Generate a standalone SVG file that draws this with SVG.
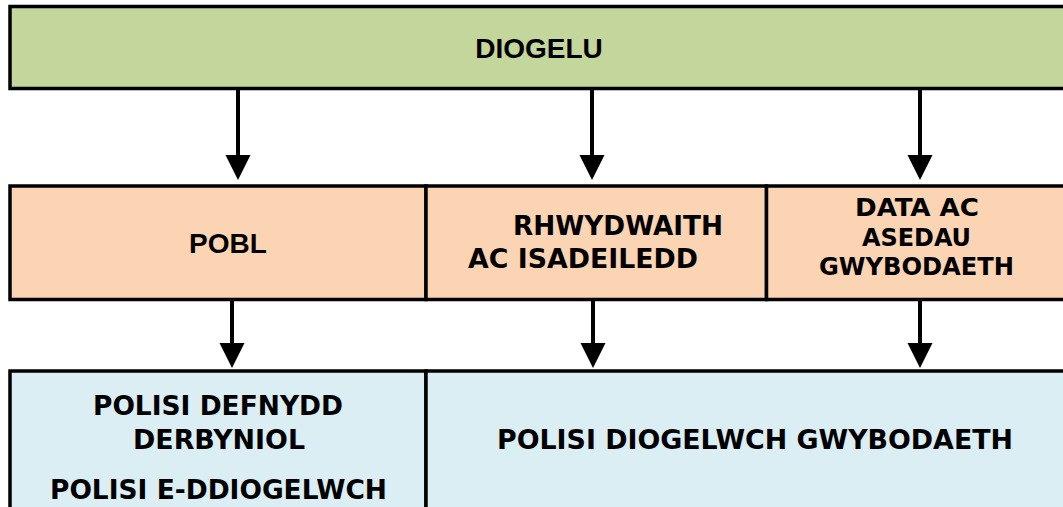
<svg xmlns="http://www.w3.org/2000/svg" width="1063" height="507" viewBox="0 0 1063 507">
<style>
.box{stroke:#000;stroke-width:3.5}
.g{fill:#C3D69B}
.p{fill:#FBD4B4}
.b{fill:#DAEEF3}
.ta{font-family:"Liberation Sans",Arial,sans-serif;font-weight:bold;font-size:28px;fill:#000}
.th{font-family:"DejaVu Sans Condensed","DejaVu Sans",sans-serif;font-stretch:condensed;font-weight:bold;font-size:26px;fill:#000}
.sm{font-size:25px}
.arr{stroke:#000;stroke-width:4;fill:none;marker-end:url(#ah)}
</style>
<defs>
<marker id="ah" viewBox="0 0 10 10" refX="0" refY="5" markerWidth="25" markerHeight="28" markerUnits="userSpaceOnUse" orient="auto">
<path d="M0,0 L10,5 L0,10 z" fill="#000"/>
</marker>
</defs>
<rect width="1063" height="507" fill="#fff"/>
<g id="diogelu">
<rect class="box g" x="10" y="6.5" width="1070" height="82"/>
<text class="ta" x="539" y="58" text-anchor="middle">DIOGELU</text>
</g>
<g id="pobl">
<rect class="box p" x="10" y="186" width="416" height="113.5"/>
<text class="ta" x="228" y="253" text-anchor="middle">POBL</text>
</g>
<g id="rhwydwaith">
<rect class="box p" x="426" y="186" width="340.5" height="113.5"/>
<text class="th" x="513" y="235" textLength="210" lengthAdjust="spacingAndGlyphs">RHWYDWAITH</text>
<text class="th" x="468" y="268" textLength="230" lengthAdjust="spacingAndGlyphs">AC ISADEILEDD</text>
</g>
<g id="data">
<rect class="box p" x="766.5" y="186" width="320" height="113.5"/>
<text class="th sm" x="855" y="216" textLength="124" lengthAdjust="spacingAndGlyphs">DATA AC</text>
<text class="th sm" x="862" y="245.5" textLength="109" lengthAdjust="spacingAndGlyphs">ASEDAU</text>
<text class="th sm" x="819" y="275" textLength="195" lengthAdjust="spacingAndGlyphs">GWYBODAETH</text>
</g>
<g id="polisi-defnydd">
<rect class="box b" x="10" y="371" width="416" height="160"/>
<text class="th" x="93" y="415" textLength="250" lengthAdjust="spacingAndGlyphs">POLISI DEFNYDD</text>
<text class="th" x="133" y="449" textLength="172" lengthAdjust="spacingAndGlyphs">DERBYNIOL</text>
<text class="th" x="50" y="499" textLength="337" lengthAdjust="spacingAndGlyphs">POLISI E-DDIOGELWCH</text>
</g>
<g id="polisi-diogelwch">
<rect class="box b" x="426" y="371" width="660" height="160"/>
<text class="th" x="497" y="449" textLength="516" lengthAdjust="spacingAndGlyphs">POLISI DIOGELWCH GWYBODAETH</text>
</g>
<g id="connectors">
<line class="arr" x1="238" y1="90" x2="238" y2="155"/>
<line class="arr" x1="592" y1="90" x2="592" y2="155"/>
<line class="arr" x1="920" y1="90" x2="920" y2="155"/>
<line class="arr" x1="232" y1="301" x2="232" y2="343"/>
<line class="arr" x1="593" y1="301" x2="593" y2="343"/>
<line class="arr" x1="920" y1="301" x2="920" y2="343"/>
</g>
</svg>
